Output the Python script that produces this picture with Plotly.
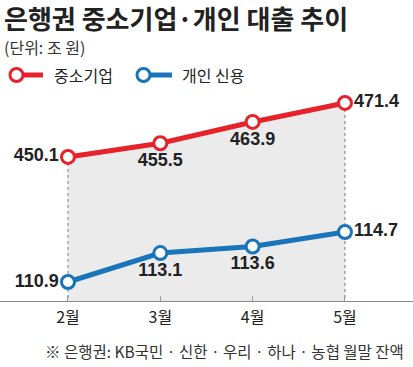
import plotly.graph_objects as go

months = ["2월", "3월", "4월", "5월"]
sme = [450.1, 455.5, 463.9, 471.4]
personal = [110.9, 113.1, 113.6, 114.7]
sme_name = "중소기업"
personal_name = "개인 신용"
title = "은행권 중소기업·개인 대출 추이"
unit = "(단위: 조 원)"
note = "※ 은행권: KB국민 · 신한 · 우리 · 하나 · 농협 월말 잔액"

RED = "#e8222b"
BLUE = "#1a74ba"
KFONT = "Noto Sans CJK KR"
NUMFONT = "Liberation Sans Narrow, Liberation Sans, Arial, sans-serif"

W, H = 413, 367
T, B = 90, 301  # plot area top / bottom in pixels


def px(x):
    return x / W


def py(y):
    return (B - y) / (B - T)


y1_range = [393.3, 476.5]
y2_range = [109.456, 125.49]
pos = ["middle left", "bottom center", "bottom center", "middle right"]

fig = go.Figure()
fig.add_trace(go.Scatter(x=months, y=sme, mode="lines", line=dict(width=0, color="#ebebeb"),
                         fill="tozeroy", fillcolor="#ebebeb", showlegend=False, hoverinfo="skip"))
for i in (0, len(months) - 1):
    fig.add_trace(go.Scatter(x=[months[i], months[i]], y=[sme[i], y1_range[0]], mode="lines",
                             line=dict(color="#7a7a7a", width=1, dash="dot"),
                             showlegend=False, hoverinfo="skip"))
fig.add_trace(go.Scatter(x=months, y=sme, name=sme_name, mode="lines+markers+text",
                         line=dict(color=RED, width=5),
                         marker=dict(symbol="circle", size=13, color="white", line=dict(color=RED, width=3)),
                         text=[f"{v:.1f}" for v in sme], textposition=pos,
                         textfont=dict(family=NUMFONT, size=18, color="#222222", weight="bold"),
                         cliponaxis=False, showlegend=False))
fig.add_trace(go.Scatter(x=months, y=personal, name=personal_name, mode="lines+markers+text", yaxis="y2",
                         line=dict(color=BLUE, width=5),
                         marker=dict(symbol="circle", size=13, color="white", line=dict(color=BLUE, width=3)),
                         text=[f"{v:.1f}" for v in personal], textposition=pos,
                         textfont=dict(family=NUMFONT, size=18, color="#222222", weight="bold"),
                         cliponaxis=False, showlegend=False))

# legend drawn as shapes + text
shapes = []
annotations = []
for color, name, x0, x_line_end, x_text in [(RED, sme_name, 10, 43, 52), (BLUE, personal_name, 137, 172, 180)]:
    shapes.append(dict(type="line", xref="paper", yref="paper", x0=px(x0 + 13), x1=px(x_line_end),
                       y0=py(75), y1=py(75), line=dict(color=color, width=5), layer="above"))
    shapes.append(dict(type="circle", xref="paper", yref="paper", x0=px(x0), x1=px(x0 + 13),
                       y0=py(81.5), y1=py(68.5), fillcolor="white", line=dict(color=color, width=3),
                       layer="above"))
    annotations.append(dict(text=name, xref="paper", yref="paper", x=px(x_text), y=py(75),
                            xanchor="left", yanchor="middle", showarrow=False,
                            font=dict(family=KFONT, size=16, color="#222222")))

annotations += [
    dict(text=f"<b>{title}</b>", xref="paper", yref="paper", x=px(3), y=py(17.2), xanchor="left",
         yanchor="middle", showarrow=False, borderpad=0,
         font=dict(family=KFONT, size=26, color="#222222")),
    dict(text=unit, xref="paper", yref="paper", x=px(3), y=py(47), xanchor="left", yanchor="middle",
         showarrow=False, borderpad=0, font=dict(family=KFONT, size=16, color="#333333")),
    dict(text=note, xref="paper", yref="paper", x=px(406), y=py(351), xanchor="right", yanchor="middle",
         showarrow=False, font=dict(family=KFONT, size=15.5, color="#333333")),
]

fig.update_layout(
    width=W, height=H,
    margin=dict(l=0, r=0, t=T, b=H - B),
    paper_bgcolor="white", plot_bgcolor="white",
    font=dict(family=KFONT, color="#222222"),
    showlegend=False,
    xaxis=dict(type="category", range=[-0.7365, 3.737], showgrid=False, zeroline=False,
               showline=True, linecolor="#8a8a8a", linewidth=1,
               ticks="inside", ticklen=5, tickcolor="#9a9a9a", tickwidth=1,
               tickfont=dict(family=KFONT, size=16, color="#222222"), ticklabelstandoff=2),
    yaxis=dict(range=y1_range, visible=False, showgrid=False, zeroline=False),
    yaxis2=dict(range=y2_range, overlaying="y", visible=False, showgrid=False, zeroline=False),
    shapes=shapes,
    annotations=annotations,
)
fig.write_html("out.html", config={"displayModeBar": False},
               post_script="document.body.style.margin='0';")
